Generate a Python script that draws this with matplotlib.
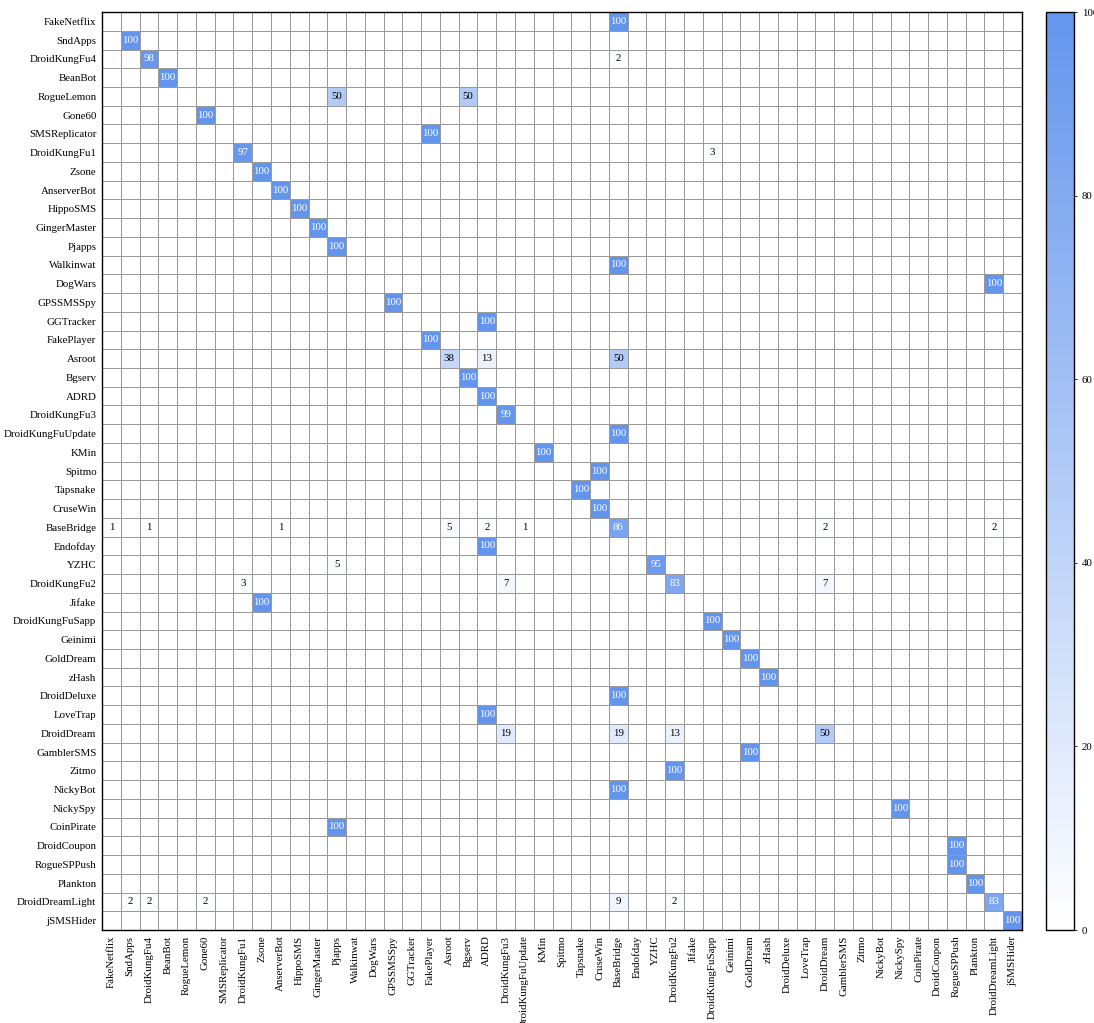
import numpy as np
import matplotlib
matplotlib.use("Agg")
import matplotlib.pyplot as plt
from matplotlib.colors import LinearSegmentedColormap

plt.rcParams["font.family"] = ["Liberation Serif", "DejaVu Serif"]

families = [
    "FakeNetflix", "SndApps", "DroidKungFu4", "BeanBot", "RogueLemon", "Gone60",
    "SMSReplicator", "DroidKungFu1", "Zsone", "AnserverBot", "HippoSMS",
    "GingerMaster", "Pjapps", "Walkinwat", "DogWars", "GPSSMSSpy", "GGTracker",
    "FakePlayer", "Asroot", "Bgserv", "ADRD", "DroidKungFu3", "DroidKungFuUpdate",
    "KMin", "Spitmo", "Tapsnake", "CruseWin", "BaseBridge", "Endofday", "YZHC",
    "DroidKungFu2", "Jifake", "DroidKungFuSapp", "Geinimi", "GoldDream", "zHash",
    "DroidDeluxe", "LoveTrap", "DroidDream", "GamblerSMS", "Zitmo", "NickyBot",
    "NickySpy", "CoinPirate", "DroidCoupon", "RogueSPPush", "Plankton",
    "DroidDreamLight", "jSMSHider",
]

# Non-zero cells of the confusion matrix (percent of each true family)
true_family = [
    "FakeNetflix", "SndApps", "DroidKungFu4", "DroidKungFu4", "BeanBot",
    "RogueLemon", "RogueLemon", "Gone60", "SMSReplicator", "DroidKungFu1",
    "DroidKungFu1", "Zsone", "AnserverBot", "HippoSMS", "GingerMaster", "Pjapps",
    "Walkinwat", "DogWars", "GPSSMSSpy", "GGTracker", "FakePlayer",
    "Asroot", "Asroot", "Asroot", "Bgserv", "ADRD", "DroidKungFu3",
    "DroidKungFuUpdate", "KMin", "Spitmo", "Tapsnake", "CruseWin",
    "BaseBridge", "BaseBridge", "BaseBridge", "BaseBridge", "BaseBridge",
    "BaseBridge", "BaseBridge", "BaseBridge", "BaseBridge",
    "Endofday", "YZHC", "YZHC",
    "DroidKungFu2", "DroidKungFu2", "DroidKungFu2", "DroidKungFu2",
    "Jifake", "DroidKungFuSapp", "Geinimi", "GoldDream", "zHash", "DroidDeluxe",
    "LoveTrap", "DroidDream", "DroidDream", "DroidDream", "DroidDream",
    "GamblerSMS", "Zitmo", "NickyBot", "NickySpy", "CoinPirate", "DroidCoupon",
    "RogueSPPush", "Plankton",
    "DroidDreamLight", "DroidDreamLight", "DroidDreamLight", "DroidDreamLight",
    "DroidDreamLight", "DroidDreamLight",
    "jSMSHider",
]
predicted_family = [
    "BaseBridge", "SndApps", "DroidKungFu4", "BaseBridge", "BeanBot",
    "Pjapps", "Bgserv", "Gone60", "FakePlayer", "DroidKungFu1",
    "DroidKungFuSapp", "Zsone", "AnserverBot", "HippoSMS", "GingerMaster", "Pjapps",
    "BaseBridge", "DroidDreamLight", "GPSSMSSpy", "ADRD", "FakePlayer",
    "Asroot", "ADRD", "BaseBridge", "Bgserv", "ADRD", "DroidKungFu3",
    "BaseBridge", "KMin", "CruseWin", "Tapsnake", "CruseWin",
    "FakeNetflix", "DroidKungFu4", "AnserverBot", "Asroot", "ADRD",
    "DroidKungFuUpdate", "BaseBridge", "DroidDream", "DroidDreamLight",
    "ADRD", "Pjapps", "YZHC",
    "DroidKungFu1", "DroidKungFu3", "DroidKungFu2", "DroidDream",
    "Zsone", "DroidKungFuSapp", "Geinimi", "GoldDream", "zHash", "BaseBridge",
    "ADRD", "DroidKungFu3", "BaseBridge", "DroidKungFu2", "DroidDream",
    "GoldDream", "DroidKungFu2", "BaseBridge", "NickySpy", "Pjapps", "RogueSPPush",
    "RogueSPPush", "Plankton",
    "SndApps", "DroidKungFu4", "Gone60", "BaseBridge",
    "DroidKungFu2", "DroidDreamLight",
    "jSMSHider",
]
percent = [
    100, 100, 98, 2, 100,
    50, 50, 100, 100, 97,
    3, 100, 100, 100, 100, 100,
    100, 100, 100, 100, 100,
    38, 13, 50, 100, 100, 99,
    100, 100, 100, 100, 100,
    1, 1, 1, 5, 2,
    1, 86, 2, 2,
    100, 5, 95,
    3, 7, 83, 7,
    100, 100, 100, 100, 100, 100,
    100, 19, 19, 13, 50,
    100, 100, 100, 100, 100, 100,
    100, 100,
    2, 2, 2, 9,
    2, 83,
    100,
]

n = len(families)
index = {name: i for i, name in enumerate(families)}
matrix = np.zeros((n, n))
for t, p, v in zip(true_family, predicted_family, percent):
    matrix[index[t], index[p]] = v

cmap = LinearSegmentedColormap.from_list("wb", ["#ffffff", "#6495ed"])

fig = plt.figure(figsize=(10.94, 10.23), dpi=100)
ax = fig.add_axes([0.0932, 0.0909, 0.8410, 0.8973])
cax = fig.add_axes([0.9561, 0.0909, 0.0256, 0.8973])

mesh = ax.pcolormesh(np.arange(n + 1), np.arange(n + 1), matrix, cmap=cmap,
                     vmin=0, vmax=100, edgecolors="#999999", linewidth=0.7)
ax.set_xlim(0, n)
ax.set_ylim(n, 0)

for i in range(n):
    for j in range(n):
        v = matrix[i, j]
        if v > 0:
            ax.text(j + 0.5, i + 0.5, f"{int(v)}", ha="center", va="center",
                    fontsize=7.8, color="white" if v >= 60 else "black")

ax.set_xticks(np.arange(n) + 0.5)
ax.set_yticks(np.arange(n) + 0.5)
ax.set_xticklabels(families, rotation=90, fontsize=7.8)
ax.set_yticklabels(families, fontsize=7.8)
ax.tick_params(length=0, pad=4)
for s in ax.spines.values():
    s.set_color("black")
    s.set_linewidth(1.0)

cb = fig.colorbar(mesh, cax=cax)
cb.set_ticks([0, 20, 40, 60, 80, 100])
cb.ax.tick_params(labelsize=7.8, length=2, width=0.6)
cb.outline.set_linewidth(1.0)

fig.savefig("out.png", dpi=100)
